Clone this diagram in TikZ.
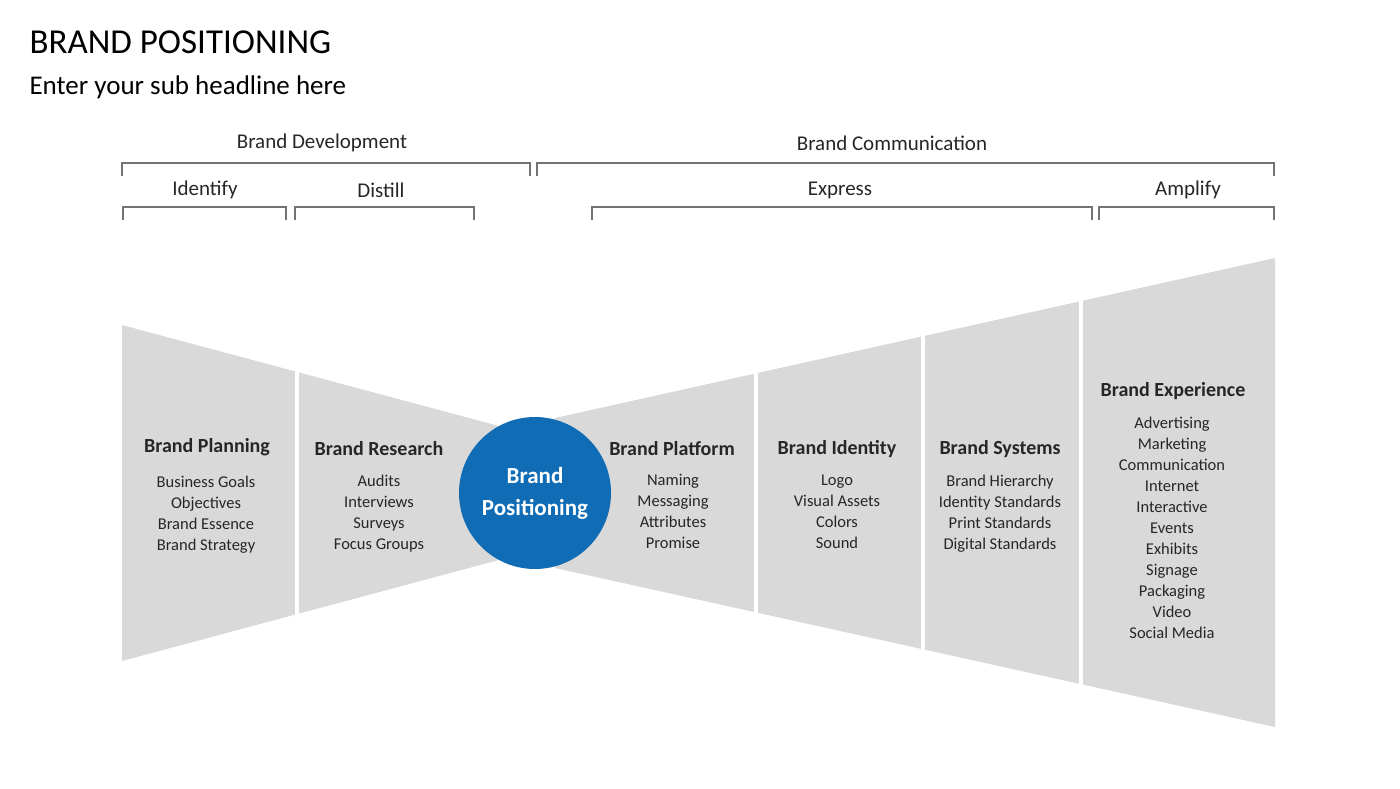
\documentclass[tikz,border=0pt]{standalone}
\usepackage{fontspec}
\setmainfont{Carlito}
\begin{document}
\begin{tikzpicture}[x=1pt,y=-1pt,
  br/.style={draw=black!55,line width=1.6pt},
  hd/.style={font=\fontsize{20}{22}\selectfont\bfseries,text=black!85},
  it/.style={font=\fontsize{16.5}{21}\selectfont,align=center,text=black!85},
  lb/.style={font=\fontsize{21}{24}\selectfont,text=black!85}]
\useasboundingbox (0,0) rectangle (1400,788);
\node[anchor=west,font=\fontsize{35}{38}\selectfont] (t) at (26,42) {BRAND POSITIONING};
\node[anchor=west,font=\fontsize{27}{30}\selectfont] (s) at (26,87) {Enter your sub headline here};
% brackets
\draw[br] (122,176) -- (122,163) -- (530,163) -- (530,176);
\draw[br] (537,176) -- (537,163) -- (1274,163) -- (1274,176);
\draw[br] (123,220) -- (123,207) -- (286,207) -- (286,220);
\draw[br] (295,220) -- (295,207) -- (474,207) -- (474,220);
\draw[br] (592,220) -- (592,207) -- (1092,207) -- (1092,220);
\draw[br] (1099,220) -- (1099,207) -- (1274,207) -- (1274,220);
\node[lb] (bd) at (322,143) {Brand Development};
\node[lb] (bc) at (892,143) {Brand Communication};
\node[lb] (i) at (205,190) {Identify};
\node[lb] (d) at (381,190) {Distill};
\node[lb] (e) at (840,190) {Express};
\node[lb] (a) at (1188,190) {Amplify};
% funnels
\fill[black!15] (122,325) -- (510,429) -- (510,557) -- (122,661) -- cycle;
\fill[black!15] (555,418) -- (1275,258) -- (1275,727) -- (555,568) -- cycle;
\foreach \x in {297,756,923,1081} \fill[white] (\x-1.8,240) rectangle (\x+1.8,760);
\node[circle,fill={rgb,255:red,16;green,108;blue,181},minimum size=152pt,inner sep=0,align=center,text=white,font=\fontsize{23}{32}\selectfont\bfseries] (c) at (535,493) {Brand\\Positioning};
% texts
\node[hd] (h1) at (207,447) {Brand Planning};
\node[it,anchor=north] at (206,472) {Business Goals\\Objectives\\Brand Essence\\Brand Strategy};
\node[hd] (h2) at (379,449) {Brand Research};
\node[it,anchor=north] at (379,471) {Audits\\Interviews\\Surveys\\Focus Groups};
\node[hd] (h3) at (672,449) {Brand Platform};
\node[it,anchor=north] at (673,471) {Naming\\Messaging\\Attributes\\Promise};
\node[hd] (h4) at (837,449) {Brand Identity};
\node[it,anchor=north] at (837,471) {Logo\\Visual Assets\\Colors\\Sound};
\node[hd] (h5) at (1000,449) {Brand Systems};
\node[it,anchor=north] at (1000,471) {Brand Hierarchy\\Identity Standards\\Print Standards\\Digital Standards};
\node[hd] (h6) at (1173,391) {Brand Experience};
\node[it,anchor=north] at (1172,413) {Advertising\\Marketing\\Communication\\Internet\\Interactive\\Events\\Exhibits\\Signage\\Packaging\\Video\\Social Media};
\end{tikzpicture}
\end{document}
